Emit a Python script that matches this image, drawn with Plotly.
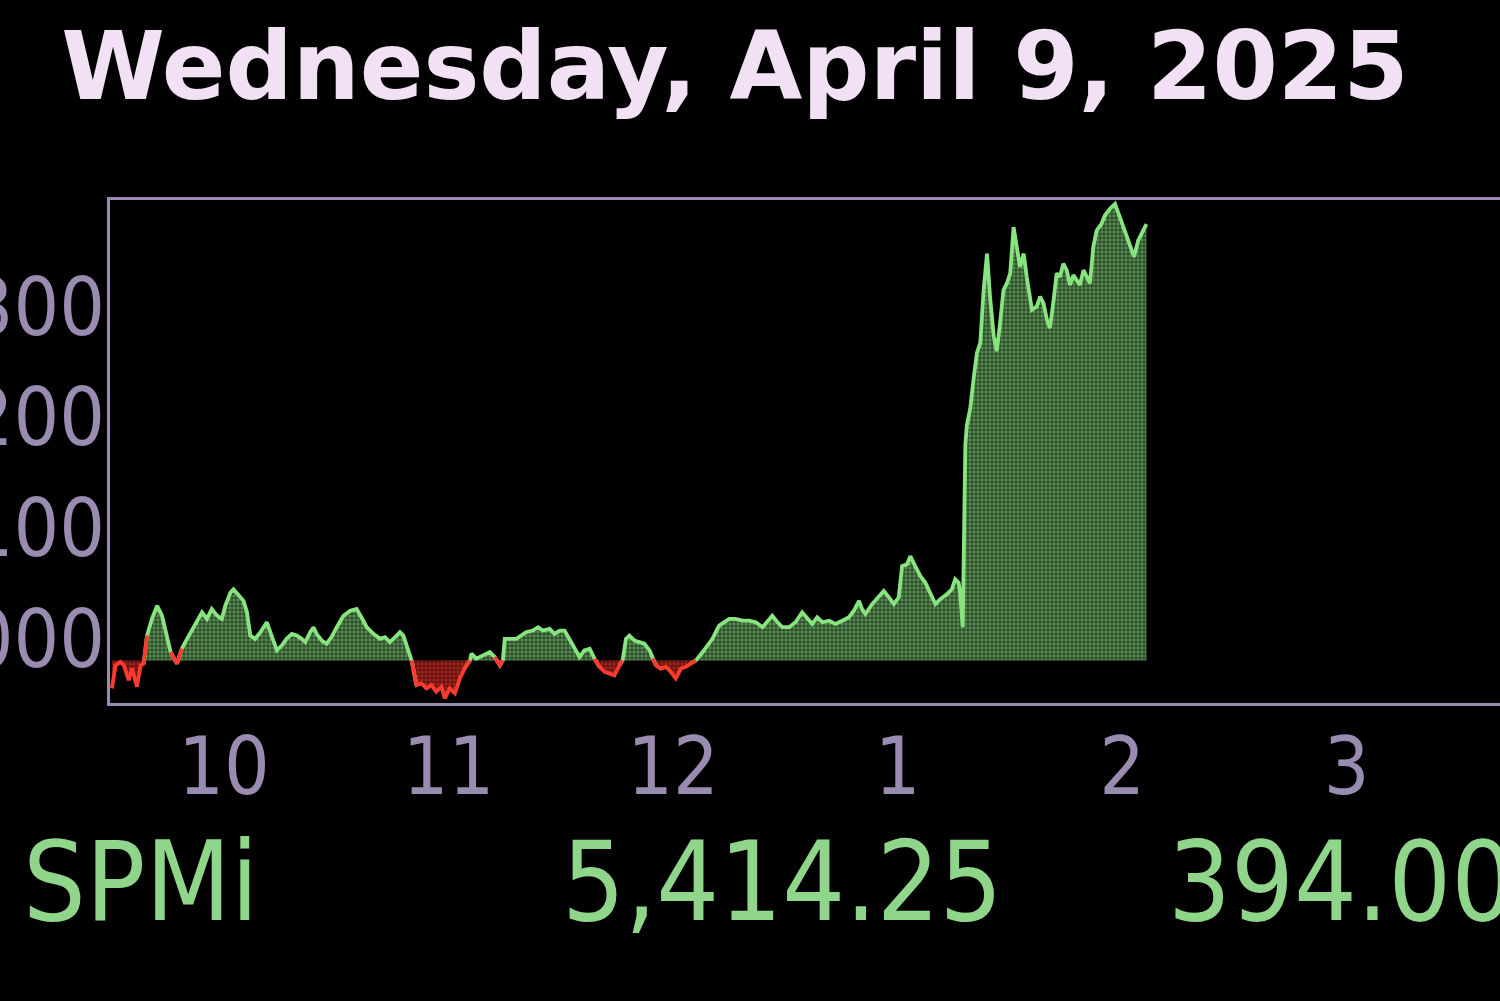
import numpy as np
import pandas as pd
import plotly.graph_objects as go

# ---------------- data ----------------
title_text = "Wednesday, April 9, 2025"
symbol = "SPMi"
last_price = 5414.25
net_change = 394.00
prev_close = 5020.25

# minutes after the 9:30 open
minutes = [0.0,1.0,2.3,3.2,4.5,5.4,6.7,7.7,8.5,9.4,10.7,12.1,13.4,14.3,15.7,17.4,18.7,20.1,21.4,22.7,
           24.1,25.4,26.7,28.1,29.4,30.3,31.7,32.5,33.9,35.2,36.1,37.0,38.3,39.7,41.4,42.7,44.1,45.4,46.7,48.1,
           49.4,50.7,51.7,53.0,53.9,54.7,56.1,57.4,58.7,60.1,61.9,63.7,65.4,66.7,68.1,69.9,71.7,73.0,74.3,75.7,
           77.0,77.9,
           78.7,80.1,81.4,82.7,84.1,85.4,86.7,88.1,89.0,90.3,91.7,93.0,94.3,95.7,96.1,97.4,99.2,101.0,102.3,103.7,
           104.5,105.0,106.3,108.1,109.4,110.7,112.5,113.9,115.2,117.0,118.3,119.7,121.0,122.3,123.7,125.0,126.3,127.7,129.0,130.3,
           131.7,133.0,134.3,135.7,136.5,137.4,138.3,139.7,141.0,142.3,143.7,144.5,145.4,146.7,148.1,149.4,150.7,152.1,153.4,154.7,
           156.1,157.9,160.5,162.3,
           163.7,165.0,166.7,168.5,170.3,172.1,173.9,175.2,176.5,177.9,179.2,181.0,182.7,184.5,185.9,187.2,188.5,189.9,191.7,193.4,
           195.2,197.0,198.3,199.7,200.5,201.4,203.2,205.0,206.3,207.7,209.0,210.3,211.2,212.5,213.4,214.7,216.1,217.4,218.7,220.1,
           221.4,223.2,224.5,225.4,226.3,226.7,227.4,
           227.9,228.1,228.5,229.4,230.3,231.2,232.1,232.5,233.0,233.9,234.7,235.7,236.5,237.4,238.3,239.2,240.1,241.0,241.9,242.7,
           243.7,244.5,245.9,247.2,248.1,249.0,249.9,250.7,251.7,252.5,253.4,254.3,255.2,256.1,257.0,257.9,258.7,259.7,260.5,261.4,
           262.3,263.2,264.5,265.4,266.7,268.1,269.4,270.7,272.1,273.2,274.3,275.7,276.5]

prices = [4995.2,5016.0,5019.1,5016.0,5002.6,5013.1,4996.7,5016.0,5017.6,5042.9,5057.9,5069.8,5060.8,5048.9,5028.0,5017.6,5031.0,5039.9,5047.4,5054.9,
          5063.9,5057.9,5066.8,5060.8,5057.9,5069.8,5081.8,5084.7,5078.7,5074.2,5063.9,5042.9,5039.9,5045.9,5054.9,5042.9,5029.5,5033.9,5039.9,5044.4,
          5042.9,5039.9,5037.0,5045.9,5050.4,5044.4,5038.4,5035.5,5041.5,5050.4,5060.8,5065.3,5066.8,5059.4,5050.4,5044.4,5039.9,5041.5,5037.0,5041.5,
          5045.9,5042.9,
          5033.9,5020.5,4998.1,4999.7,4995.2,4998.1,4992.2,4996.7,4986.2,4995.2,4990.7,5004.1,5013.1,5020.5,5026.5,5022.0,5025.0,5028.0,5023.6,5016.0,
          5020.5,5039.9,5039.9,5039.9,5042.9,5045.9,5047.4,5050.4,5047.4,5048.9,5044.4,5047.4,5047.4,5039.9,5031.0,5023.6,5029.5,5031.0,5022.0,5014.6,
          5010.1,5008.6,5007.0,5016.0,5020.5,5039.9,5042.9,5038.4,5037.0,5035.5,5029.5,5022.0,5016.0,5013.1,5014.6,5010.1,5004.1,5013.1,5014.6,5017.6,
          5020.5,5028.0,5039.9,5051.9,
          5054.9,5057.9,5057.9,5056.3,5056.3,5054.9,5050.4,5056.3,5060.8,5054.9,5050.4,5050.4,5054.9,5063.9,5057.9,5053.4,5059.4,5054.9,5056.3,5053.4,
          5056.3,5059.4,5065.3,5074.2,5066.8,5062.3,5071.3,5078.7,5083.2,5077.3,5071.3,5077.3,5105.6,5107.1,5114.5,5105.6,5096.6,5090.7,5081.8,5071.3,
          5075.8,5080.2,5084.7,5093.7,5090.7,5081.8,5050.4,
          5140.0,5214.5,5232.4,5247.4,5274.2,5298.0,5307.0,5333.9,5354.8,5387.6,5348.8,5313.0,5299.6,5325.0,5354.8,5360.7,5369.7,5411.5,5393.6,5375.7,
          5387.6,5366.7,5336.9,5339.9,5348.8,5342.8,5328.0,5320.4,5345.8,5369.7,5366.7,5378.6,5372.7,5359.3,5368.3,5363.8,5359.3,5372.7,5366.7,5360.7,
          5393.6,5408.5,5414.5,5422.0,5427.9,5432.4,5420.5,5408.5,5396.6,5384.7,5399.6,5410.0,5414.25]

x_tick_times = ["10:00", "11:00", "12:00", "13:00", "14:00", "15:00"]
x_tick_text = ["10", "11", "12", "1", "2", "3"]
y_tick_vals = [5000, 5100, 5200, 5300]
y_tick_text = ["5,000", "5,100", "5,200", "5,300"]

# ---------------- build ----------------
day = "2025-04-09"
t = pd.Timestamp(f"{day} 09:30") + pd.to_timedelta(minutes, unit="min")
v = np.array(prices)
above = v >= prev_close
nb_above = above | np.r_[above[1:], above[-1]] | np.r_[above[0], above[:-1]]
below = ~above
nb_below = below | np.r_[below[1:], below[-1]] | np.r_[below[0], below[:-1]]

green_line = np.where(nb_above, v, np.nan)
red_line = np.where(nb_below, v, np.nan)
base = np.full(len(v), prev_close)

GREEN = "#88e47e"
RED = "#ff3a2e"
AXIS = "#9a8bb0"
TICK_FONT = dict(family="DejaVu Sans Condensed, DejaVu Sans", size=80, color=AXIS)

fig = go.Figure()
fig.add_trace(go.Scatter(x=t, y=base, mode="lines", line=dict(width=0), hoverinfo="skip", showlegend=False))
fig.add_trace(go.Scatter(x=t, y=np.maximum(v, prev_close), mode="lines", line=dict(width=0),
                         fill="tonexty", fillcolor="#467442", showlegend=False,
                         fillpattern=dict(shape="+", bgcolor="#578c51", fgcolor="#0c140b", size=4, solidity=0.28)))
fig.add_trace(go.Scatter(x=t, y=base, mode="lines", line=dict(width=0), hoverinfo="skip", showlegend=False))
fig.add_trace(go.Scatter(x=t, y=np.minimum(v, prev_close), mode="lines", line=dict(width=0),
                         fill="tonexty", fillcolor="#8c1c18", showlegend=False,
                         fillpattern=dict(shape="+", bgcolor="#a3221c", fgcolor="#140505", size=4, solidity=0.25)))
fig.add_trace(go.Scatter(x=t, y=green_line, mode="lines", line=dict(color=GREEN, width=3.8),
                         connectgaps=False, showlegend=False))
fig.add_trace(go.Scatter(x=t, y=red_line, mode="lines", line=dict(color=RED, width=3.8),
                         connectgaps=False, showlegend=False))

fig.update_layout(
    template="none",
    width=1500, height=1001,
    paper_bgcolor="black", plot_bgcolor="black",
    margin=dict(l=110, r=0, t=200, b=298, autoexpand=False),
    showlegend=False,
    title=dict(text=title_text, x=0.49, xanchor="center", y=0.934, yanchor="middle",
               font=dict(family="DejaVu Sans", size=94, color="#f2e1f4", weight=600)),
    xaxis=dict(type="date",
               range=[f"{day} 09:29:30", f"{day} 15:41:00"],
               tickvals=[f"{day} {s}" for s in x_tick_times], ticktext=x_tick_text,
               tickfont=TICK_FONT,
               showgrid=False, zeroline=False, ticks="", ticklen=0,
               showline=True, linecolor=AXIS, linewidth=3, mirror=True,
               automargin=False, ticklabelstandoff=-8),
    yaxis=dict(range=[4982, 5436],
               tickvals=y_tick_vals, ticktext=y_tick_text,
               tickfont=TICK_FONT,
               showgrid=False, zeroline=False, ticks="", ticklen=0,
               showline=True, linecolor=AXIS, linewidth=3, mirror=False,
               automargin=False, ticklabelshift=-44, ticklabelstandoff=-14),
)

bottom_font = dict(family="Liberation Sans Narrow, DejaVu Sans Condensed, sans-serif", size=110, color="#8fd68a")
fig.add_annotation(text=symbol, xref="paper", yref="paper", x=-0.064, y=-0.356,
                   xanchor="left", yanchor="middle", showarrow=False, font=bottom_font)
fig.add_annotation(text=f"{last_price:,.2f}", xref="paper", yref="paper", x=0.324, y=-0.356,
                   xanchor="left", yanchor="middle", showarrow=False, font=bottom_font)
fig.add_annotation(text=f"{net_change:,.2f}", xref="paper", yref="paper", x=0.760, y=-0.356,
                   xanchor="left", yanchor="middle", showarrow=False, font=bottom_font)

fig.write_html("out.html",
               config={"displayModeBar": False},
               post_script="document.body.style.margin='0px';document.body.style.background='black';")
